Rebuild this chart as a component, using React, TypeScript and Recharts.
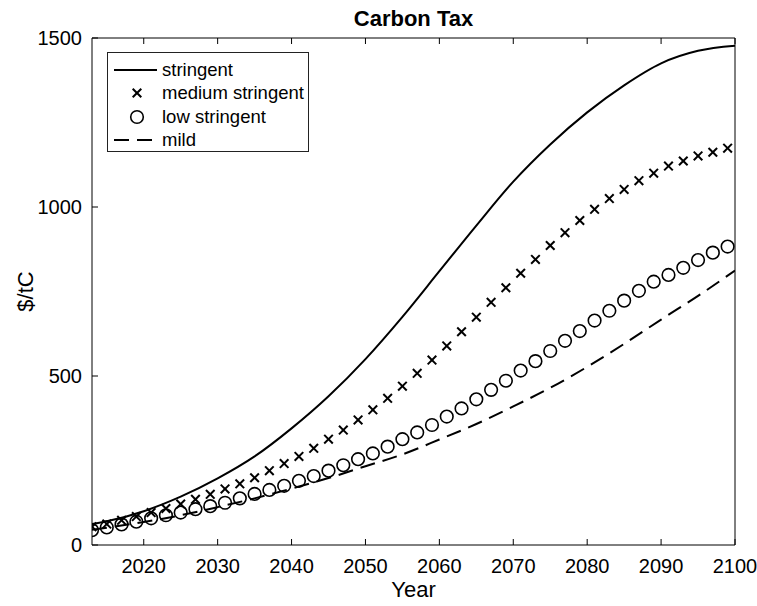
import {
    ComposedChart,
    Legend,
    Line,
    Scatter,
    XAxis,
    YAxis,
} from "recharts";

// Years / values
const stringentYears = [2013, 2015, 2020, 2025, 2030, 2035, 2040, 2045, 2050, 2055, 2060, 2065, 2070, 2075, 2080, 2085, 2090, 2095, 2100];
const stringentValues = [62, 70, 100, 143, 197, 262, 345, 440, 550, 675, 810, 945, 1075, 1185, 1280, 1360, 1425, 1462, 1477];

const markerYears = [
    2013, 2015, 2017, 2019, 2021, 2023, 2025, 2027, 2029, 2031, 2033, 2035, 2037, 2039, 2041,
    2043, 2045, 2047, 2049, 2051, 2053, 2055, 2057, 2059, 2061, 2063, 2065, 2067, 2069, 2071,
    2073, 2075, 2077, 2079, 2081, 2083, 2085, 2087, 2089, 2091, 2093, 2095, 2097, 2099,
];
const mediumValues = [
    54, 62, 73, 84, 96, 108, 121, 135, 150, 166, 181, 199, 220, 241, 262,
    286, 313, 340, 370, 400, 434, 470, 508, 547, 589, 631, 674, 718, 761, 804,
    845, 886, 924, 960, 993, 1025, 1052, 1078, 1100, 1121, 1136, 1151, 1162, 1174,
];
const lowValues = [
    44, 52, 61, 69, 79, 88, 96, 106, 115, 125, 138, 151, 163, 175, 190,
    204, 220, 236, 254, 271, 291, 313, 333, 355, 380, 404, 431, 459, 486, 516,
    544, 574, 604, 633, 664, 693, 723, 752, 779, 799, 820, 843, 865, 883,
];

const mildYears = [2013, 2020, 2025, 2030, 2035, 2040, 2045, 2050, 2055, 2060, 2065, 2070, 2075, 2080, 2085, 2090, 2095, 2100];
const mildValues = [45, 68, 88, 112, 138, 167, 198, 233, 268, 312, 358, 410, 465, 527, 595, 667, 737, 812];

const xTicks = [2020, 2030, 2040, 2050, 2060, 2070, 2080, 2090, 2100];
const yTicks = [0, 500, 1000, 1500];
const seriesNames = ["stringent", "medium stringent", "low stringent", "mild"];

const toPoints = (years: number[], values: number[]) =>
    years.map((year, i) => ({ year, v: values[i] }));

const stringentData = toPoints(stringentYears, stringentValues);
const mediumData = toPoints(markerYears, mediumValues);
const lowData = toPoints(markerYears, lowValues);
const mildData = toPoints(mildYears, mildValues);

const INK = "#000";
const FONT = "'Liberation Sans', Arial, Helvetica, sans-serif";

const CrossMarker = ({ cx, cy }: any) => (
    <g stroke={INK} strokeWidth={2}>
        <line x1={cx - 4.3} y1={cy - 4.3} x2={cx + 4.3} y2={cy + 4.3} />
        <line x1={cx - 4.3} y1={cy + 4.3} x2={cx + 4.3} y2={cy - 4.3} />
    </g>
);

const CircleMarker = ({ cx, cy }: any) => (
    <circle cx={cx} cy={cy} r={6.3} fill="none" stroke={INK} strokeWidth={1.6} />
);

// legend box like the MATLAB one
const CustomLegend = () => (
    <div
        style={{
            border: "1px solid #222",
            background: "#fff",
            width: 202,
            height: 100,
            padding: "5px 0 0 0",
            boxSizing: "border-box",
            fontFamily: FONT,
            fontSize: 18.5,
            color: INK,
        }}
    >
        {seriesNames.map((name, i) => (
            <div key={name} style={{ display: "flex", alignItems: "center", height: 23.5 }}>
                <svg width={54} height={20} style={{ flex: "none" }}>
                    {i === 0 && <line x1={6} y1={10} x2={49} y2={10} stroke={INK} strokeWidth={2} />}
                    {i === 1 && <CrossMarker cx={29} cy={10} />}
                    {i === 2 && <CircleMarker cx={29} cy={10} />}
                    {i === 3 && (
                        <line x1={6} y1={10} x2={49} y2={10} stroke={INK} strokeWidth={2} strokeDasharray="15 8" />
                    )}
                </svg>
                <span style={{ lineHeight: "20px" }}>{name}</span>
            </div>
        ))}
    </div>
);

const YLabel = () => (
    <text
        transform="translate(25,291.5) rotate(-90)"
        textAnchor="middle"
        dominantBaseline="central"
        fontFamily={FONT}
        fontSize={22}
        fill={INK}
    >
        $/tC
    </text>
);

const noLabel = () => "";

export default function App() {
    return (
        <div style={{ position: "absolute", left: 0, top: 0, width: 757, height: 606, background: "#fff" }}>
            <div
                style={{
                    position: "absolute",
                    left: 92,
                    width: 643,
                    top: 7,
                    textAlign: "center",
                    fontFamily: FONT,
                    fontWeight: "bold",
                    fontSize: 22,
                    lineHeight: "24px",
                    color: INK,
                }}
            >
                Carbon Tax
            </div>
            <ComposedChart
                width={757}
                height={606}
                margin={{ top: 37, right: 21, left: 0, bottom: 0 }}
            >
                <XAxis
                    dataKey="year"
                    type="number"
                    domain={[2013, 2100]}
                    ticks={xTicks}
                    allowDataOverflow
                    height={61}
                    tickSize={-6}
                    tickMargin={20}
                    stroke={INK}
                    tick={{ fill: INK, fontSize: 20, fontFamily: FONT }}
                    label={{ value: "Year", position: "insideBottom", offset: 9, fill: INK, fontSize: 22, fontFamily: FONT }}
                />
                <XAxis
                    xAxisId="top"
                    dataKey="year"
                    type="number"
                    orientation="top"
                    domain={[2013, 2100]}
                    ticks={xTicks}
                    allowDataOverflow
                    height={1}
                    tickSize={-6}
                    tickFormatter={noLabel}
                    stroke={INK}
                />
                <YAxis
                    dataKey="v"
                    type="number"
                    domain={[0, 1500]}
                    ticks={yTicks}
                    allowDataOverflow
                    width={92}
                    tickSize={-6}
                    tickMargin={16}
                    stroke={INK}
                    tick={{ fill: INK, fontSize: 20, fontFamily: FONT }}
                    label={{ content: () => <YLabel /> }}
                />
                <YAxis
                    yAxisId="right"
                    orientation="right"
                    type="number"
                    domain={[0, 1500]}
                    ticks={yTicks}
                    width={1}
                    tickSize={-6}
                    tickFormatter={noLabel}
                    stroke={INK}
                />

                <Legend
                    layout="horizontal"
                    verticalAlign="middle"
                    align="center"
                    wrapperStyle={{ left: 107, top: 52, width: "auto" }}
                    content={<CustomLegend />}
                />

                <Line
                    data={stringentData}
                    dataKey="v"
                    type="monotone"
                    stroke={INK}
                    strokeWidth={2}
                    dot={false}
                    isAnimationActive={false}
                    name="stringent"
                />
                <Scatter
                    data={mediumData}
                    dataKey="v"
                    shape={<CrossMarker />}
                    isAnimationActive={false}
                    name="medium stringent"
                />
                <Scatter
                    data={lowData}
                    dataKey="v"
                    shape={<CircleMarker />}
                    isAnimationActive={false}
                    name="low stringent"
                />
                <Line
                    data={mildData}
                    dataKey="v"
                    type="monotone"
                    stroke={INK}
                    strokeWidth={2}
                    strokeDasharray="15 8"
                    dot={false}
                    isAnimationActive={false}
                    name="mild"
                />
            </ComposedChart>
        </div>
    );
}
